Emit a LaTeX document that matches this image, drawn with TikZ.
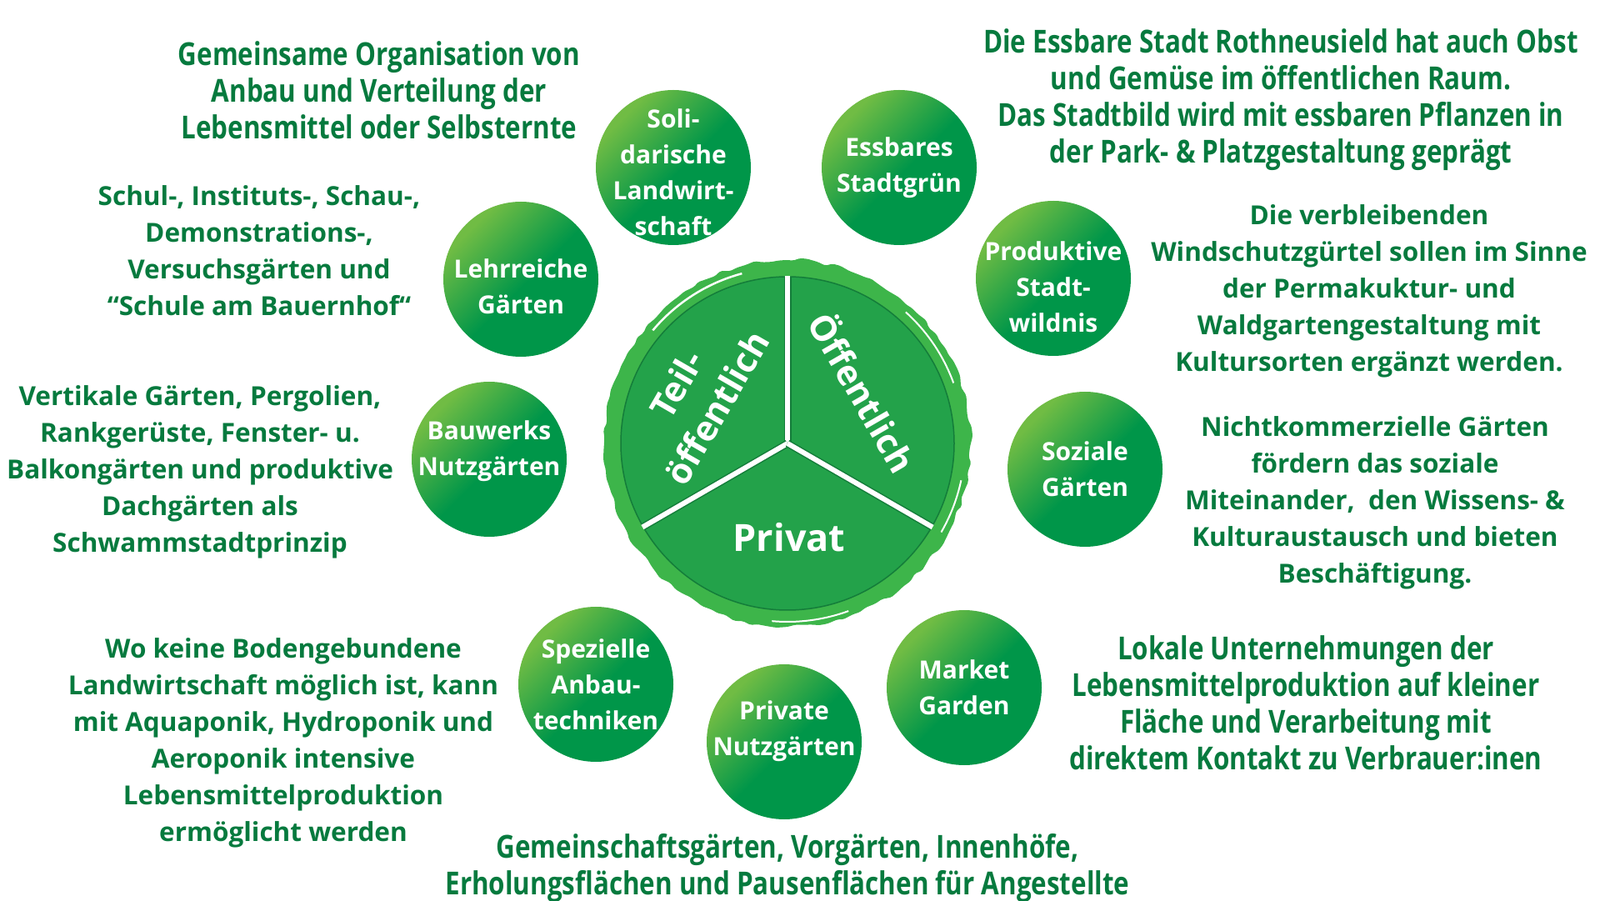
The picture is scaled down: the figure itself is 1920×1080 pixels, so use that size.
\documentclass[tikz,border=0pt]{standalone}
\usepackage{fontspec}
\setmainfont{Open Sans}
\newfontfamily\condfont[FakeStretch=0.825]{Open Sans}
\usetikzlibrary{decorations.pathmorphing}

\definecolor{txtgreen}{RGB}{6,122,62}
\definecolor{balldark}{RGB}{0,150,73}
\definecolor{balllight}{RGB}{112,188,68}
\definecolor{diskgreen}{RGB}{35,162,74}
\definecolor{diskedge}{RGB}{20,125,58}
\definecolor{ringgreen}{RGB}{61,181,74}

\pgfdeclarehorizontalshading{ballshade}{100bp}{color(0bp)=(balllight); color(27bp)=(balllight); color(52bp)=(balldark); color(100bp)=(balldark)}

\begin{document}
\begin{tikzpicture}[x=1pt,y=1pt,
    ball/.style={circle,minimum size=186pt,inner sep=0pt,shade,shading=ballshade,shading angle=-45},
    balltext/.style={align=center,text=white,font=\fontsize{30}{43}\selectfont\bfseries},
    desc/.style={align=center,text=txtgreen,font=\fontsize{31.5}{44}\selectfont\bfseries},
    cdesc/.style={align=center,text=txtgreen,font=\condfont\fontsize{38}{44}\selectfont\bfseries},
    seclabel/.style={align=center,text=white,font=\fontsize{42}{56}\selectfont\bfseries}]
\useasboundingbox (0,0) rectangle (1920,1080);

% middle wheel
\coordinate (mid) at (945,548);
\fill[ringgreen,decorate,decoration={random steps,segment length=10pt,amplitude=2.5pt},rounded corners=2pt]
    (mid) circle (220);
\draw[white,line width=2.5pt] (mid) ++(105:211) arc (105:140:211);
\draw[white,line width=2pt] (mid) ++(20:212) arc (20:48:212);
\draw[white,line width=2pt] (mid) ++(-30:213) arc (-30:-12:213);
\draw[white,line width=2pt] (mid) ++(-95:214) arc (-95:-70:214);

\fill[diskgreen] (mid) circle (200);
\draw[diskedge,line width=1.5pt] (mid) circle (200);
\foreach \a in {90,210,330} {
  \draw[diskedge,line width=9pt] (mid) -- ++(\a:199);
  \draw[white,line width=6pt] (mid) -- ++(\a:201);
}

\node[seclabel,rotate=60] (teil) at (836,605) {Teil-\\öffentlich};
\node[seclabel,rotate=-60] (oeff) at (1037,610) {Öffentlich};
\node[seclabel,font=\fontsize{45}{56}\selectfont\bfseries] (priv) at (947,435) {Privat};

% balls
\node[ball] (soli) at (808,879) {};
\node[ball] (essbar) at (1079,879) {};
\node[ball] (lehr) at (625,745) {};
\node[ball] (prod) at (1264,746) {};
\node[ball] (bauwerk) at (587,529) {};
\node[ball] (sozial) at (1302,517) {};
\node[ball] (spez) at (715,259) {};
\node[ball] (privgarten) at (941,190) {};
\node[ball] (market) at (1157,255) {};

\node[balltext] (tsoli) at ([yshift=-6]soli) {Soli-\\darische\\Landwirt-\\schaft};
\node[balltext] (tessbar) at (essbar) {Essbares\\Stadtgrün};
\node[balltext] (tlehr) at ([yshift=-9]lehr) {Lehrreiche\\Gärten};
\node[balltext] (tprod) at ([yshift=-10]prod) {Produktive\\Stadt-\\wildnis};
\node[balltext] (tbauwerk) at ([yshift=10]bauwerk) {Bauwerks\\Nutzgärten};
\node[balltext] (tsozial) at (sozial) {Soziale\\Gärten};
\node[balltext] (tspez) at (spez) {Spezielle\\Anbau-\\techniken};
\node[balltext] (tprivgarten) at ([yshift=13]privgarten) {Private\\Nutzgärten};
\node[balltext] (tmarket) at (market) {Market\\Garden};

% descriptions
\node[cdesc] (dsoli) at (455,972) {Gemeinsame Organisation von\\Anbau und Verteilung der\\Lebensmittel oder Selbsternte};
\node[cdesc] (dessbar) at (1537,960) {Die Essbare Stadt Rothneusield hat auch Obst\\und Gemüse im öffentlichen Raum.\\Das Stadtbild wird mit essbaren Pflanzen in\\der Park- \& Platzgestaltung geprägt};
\node[desc] (dlehr) at (311,779) {Schul-, Instituts-, Schau-,\\Demonstrations-,\\Versuchsgärten und\\“Schule am Bauernhof“};
\node[desc] (dprod) at (1643,731) {Die verbleibenden\\Windschutzgürtel sollen im Sinne\\der Permakuktur- und\\Waldgartengestaltung mit\\Kultursorten ergänzt werden.};
\node[desc] (dbauwerk) at (240,514) {Vertikale Gärten, Pergolien,\\Rankgerüste, Fenster- u.\\Balkongärten und produktive\\Dachgärten als\\Schwammstadtprinzip};
\node[desc] (dsozial) at (1650,477) {Nichtkommerzielle Gärten\\fördern das soziale\\Miteinander,~ den Wissens- \&\\Kulturaustausch und bieten\\Beschäftigung.};
\node[desc] (dspez) at (340,189) {Wo keine Bodengebundene\\Landwirtschaft möglich ist, kann\\mit Aquaponik, Hydroponik und\\Aeroponik intensive\\Lebensmittelproduktion\\ermöglicht werden};
\node[cdesc] (dmarket) at (1567,237) {Lokale Unternehmungen der\\Lebensmittelproduktion auf kleiner\\Fläche und Verarbeitung mit\\direktem Kontakt zu Verbrauer:inen};
\node[cdesc] (dprivgarten) at (945,38) {Gemeinschaftsgärten, Vorgärten, Innenhöfe,\\Erholungsflächen und Pausenflächen für Angestellte};
\end{tikzpicture}
\end{document}
